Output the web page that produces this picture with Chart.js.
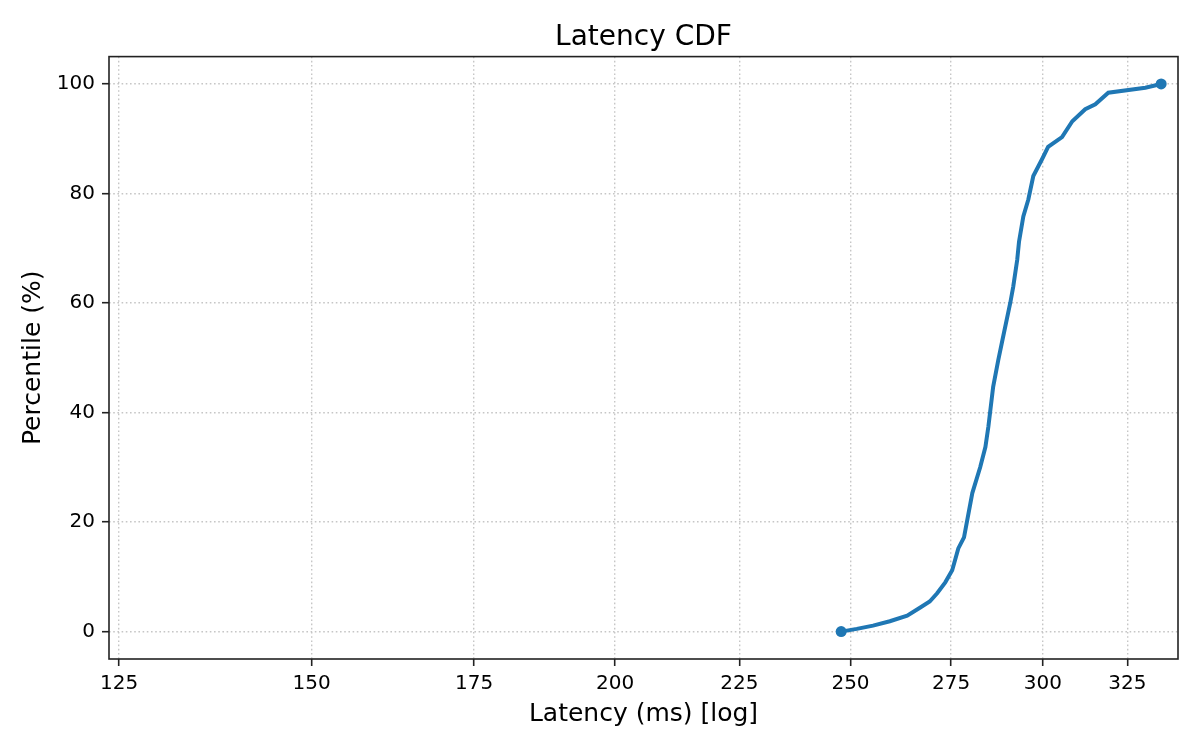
<!DOCTYPE html>
<html lang="en">
  <head>
    <meta charset="UTF-8" />
    <title>Latency CDF</title>
    <script src="https://cdn.jsdelivr.net/npm/chart.js"></script>
    <style>
      body {
        margin: 0;
        padding: 0;
        background: #fff;
      }
      #cdfChart {
        display: block;
      }
    </style>
  </head>
  <body>
    <canvas id="cdfChart" width="1200" height="750"></canvas>

    <script>
      // values
      const latencyMs = [
        247.8, 251.5, 255.4, 259.5, 263.8, 267.1, 269.5, 271.4, 273.5, 275.3,
        276.9, 278.4, 280.6, 282.7, 284.1, 284.9, 286.2, 287.6, 288.9, 290.9,
        291.7, 292.8, 293.3, 294.5, 295.9, 297.3, 299.8, 301.5, 305.5, 308.5,
        312.3, 315.3, 319.2, 330.6, 335.6,
      ];
      const percentile = [
        0, 0.5, 1.1, 1.9, 2.9, 4.4, 5.5, 7.0, 9.0, 11.2,
        15.2, 17.2, 25.3, 30.0, 33.7, 37.4, 44.7, 49.6, 53.8, 60.1,
        63.0, 67.9, 71.2, 75.8, 78.9, 83.2, 86.3, 88.5, 90.3, 93.2,
        95.4, 96.3, 98.4, 99.3, 100,
      ];
      const xTicks = [125, 150, 175, 200, 225, 250, 275, 300, 325];
      const yTicks = [0, 20, 40, 60, 80, 100];

      const FONT = "'DejaVu Sans', sans-serif";
      const lastIdx = latencyMs.length - 1;

      // black box round the plot area, like matplotlib spines
      const framePlugin = {
        id: "frame",
        afterDraw(chart) {
          const { ctx, chartArea: a } = chart;
          ctx.save();
          ctx.strokeStyle = "#222";
          ctx.lineWidth = 1.6;
          ctx.strokeRect(a.left, a.top, a.right - a.left, a.bottom - a.top);
          ctx.restore();
        },
      };

      const gridOpts = {
        color: "#c6c6c6",
        lineWidth: 1.4,
        drawTicks: true,
        tickLength: 7,
        tickColor: "#222",
        tickWidth: 1.6,
        tickBorderDash: [],
      };
      // in v4 the dash of the grid lines comes from border.dash
      const borderOpts = { display: false, dash: [1.6, 2.6] };

      new Chart(document.getElementById("cdfChart").getContext("2d"), {
        type: "line",
        data: {
          datasets: [
            {
              data: latencyMs.map((x, i) => ({ x: x, y: percentile[i] })),
              borderColor: "#1f77b4",
              backgroundColor: "#1f77b4",
              borderWidth: 4,
              tension: 0,
              fill: false,
              pointRadius: (c) => (c.dataIndex === 0 || c.dataIndex === lastIdx ? 5.5 : 0),
              pointHoverRadius: 0,
              pointBorderWidth: 0,
            },
          ],
        },
        options: {
          responsive: false,
          devicePixelRatio: 1,
          animation: false,
          layout: { padding: { left: 0, right: 22, top: 0, bottom: 0 } },
          plugins: {
            legend: { display: false },
            tooltip: { enabled: false },
            title: {
              display: true,
              fullSize: false,
              text: "Latency CDF",
              color: "#000",
              font: { family: FONT, size: 28, weight: "normal" },
              padding: { top: 21, bottom: 2 },
            },
          },
          scales: {
            x: {
              type: "logarithmic",
              min: 123.8,
              max: 341,
              afterBuildTicks: (s) => {
                s.ticks = xTicks.map((v) => ({ value: v }));
              },
              afterFit: (s) => {
                s.height = 91;
              },
              ticks: {
                autoSkip: false,
                maxRotation: 0,
                color: "#000",
                padding: 6,
                font: { family: FONT, size: 20 },
                callback: (v) => String(v),
              },
              grid: gridOpts,
              border: borderOpts,
              title: {
                display: true,
                text: "Latency (ms) [log]",
                color: "#000",
                font: { family: FONT, size: 25 },
                padding: { bottom: 21 },
              },
            },
            y: {
              type: "linear",
              min: -5,
              max: 105,
              afterBuildTicks: (s) => {
                s.ticks = yTicks.map((v) => ({ value: v }));
              },
              afterFit: (s) => {
                s.width = 109;
              },
              ticks: {
                color: "#000",
                padding: 7,
                font: { family: FONT, size: 20 },
              },
              grid: gridOpts,
              border: borderOpts,
              title: {
                display: true,
                text: "Percentile (%)",
                color: "#000",
                font: { family: FONT, size: 25 },
                padding: { top: 18 },
              },
            },
          },
        },
        plugins: [framePlugin],
      });
    </script>
  </body>
</html>
